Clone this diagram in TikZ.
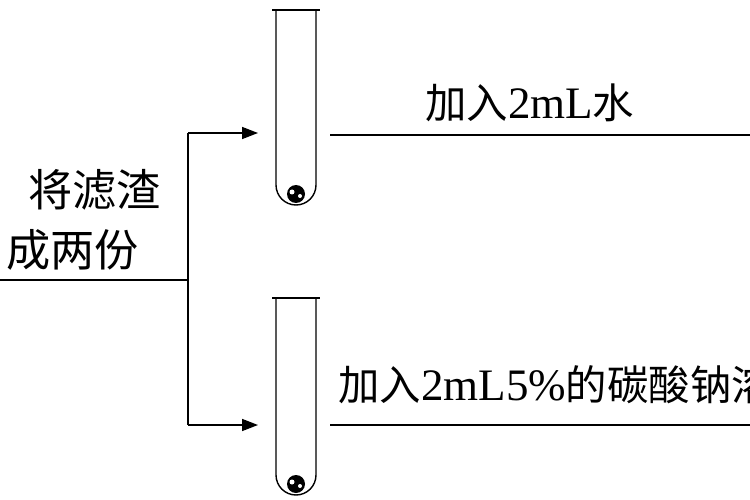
\documentclass[tikz,border=0pt]{standalone}
\usepackage{fontspec}
\setmainfont{Liberation Serif}
\newfontfamily\cjk{Noto Sans CJK SC}[Scale=0.92]
\usetikzlibrary{arrows.meta}
\begin{document}
\begin{tikzpicture}[x=1pt,y=-1pt,
  ln/.style={line width=1.6pt},
  arr/.style={ln,-{Triangle[length=16pt,width=12pt]}},
  tube/.style={line width=1.4pt},
  lbl/.style={font=\fontsize{45}{50}\selectfont,inner sep=0pt},
  lbl2/.style={font=\fontsize{48}{54}\selectfont,inner sep=0pt}]
\useasboundingbox (0,0) rectangle (750,500);
\begin{scope}
\clip (0,0) rectangle (750,500);
% tubes
\foreach \t/\y/\b in {1/10/185, 2/298/475}{
  \draw[tube] (276,\y) -- (276,\b) arc[start angle=180,end angle=0,radius=20] -- (316,\y);
  \draw[tube,line width=2pt] (272,\y) -- (320,\y);
  \fill[black] (296,\b+9) circle (9);
  \fill[white] (292,\b+7) circle (2.5);
  \fill[white] (300,\b+11) circle (2);
}
\coordinate (s) at (0,280);
\coordinate (j) at (188,280);
\coordinate (ja) at (188,133);
\coordinate (jb) at (188,425);
\coordinate (ta) at (258,133);
\coordinate (tb) at (258,425);
\draw[ln] (s) -- (j);
\draw[ln] (ja) -- (jb);
\draw[arr] (ja) -- (ta);
\draw[arr] (jb) -- (tb);
\coordinate (l1a) at (330,135); \coordinate (l1b) at (760,135);
\coordinate (l2a) at (330,425); \coordinate (l2b) at (760,425);
\draw[ln] (l1a) -- (l1b);
\draw[ln] (l2a) -- (l2b);
\node[lbl,anchor=west] (t1) at (425,103) {{\cjk 加入}2mL{\cjk 水}};
\node[lbl,anchor=west] (t2) at (338,385) {{\cjk 加入}2mL5\%{\cjk 的碳酸钠溶液}};
\node[lbl2,anchor=west] (t3) at (28,190) {\cjk 将滤渣};
\node[lbl2,anchor=west] (t4) at (6,250) {\cjk 成两份};
\end{scope}
\end{tikzpicture}
\end{document}
